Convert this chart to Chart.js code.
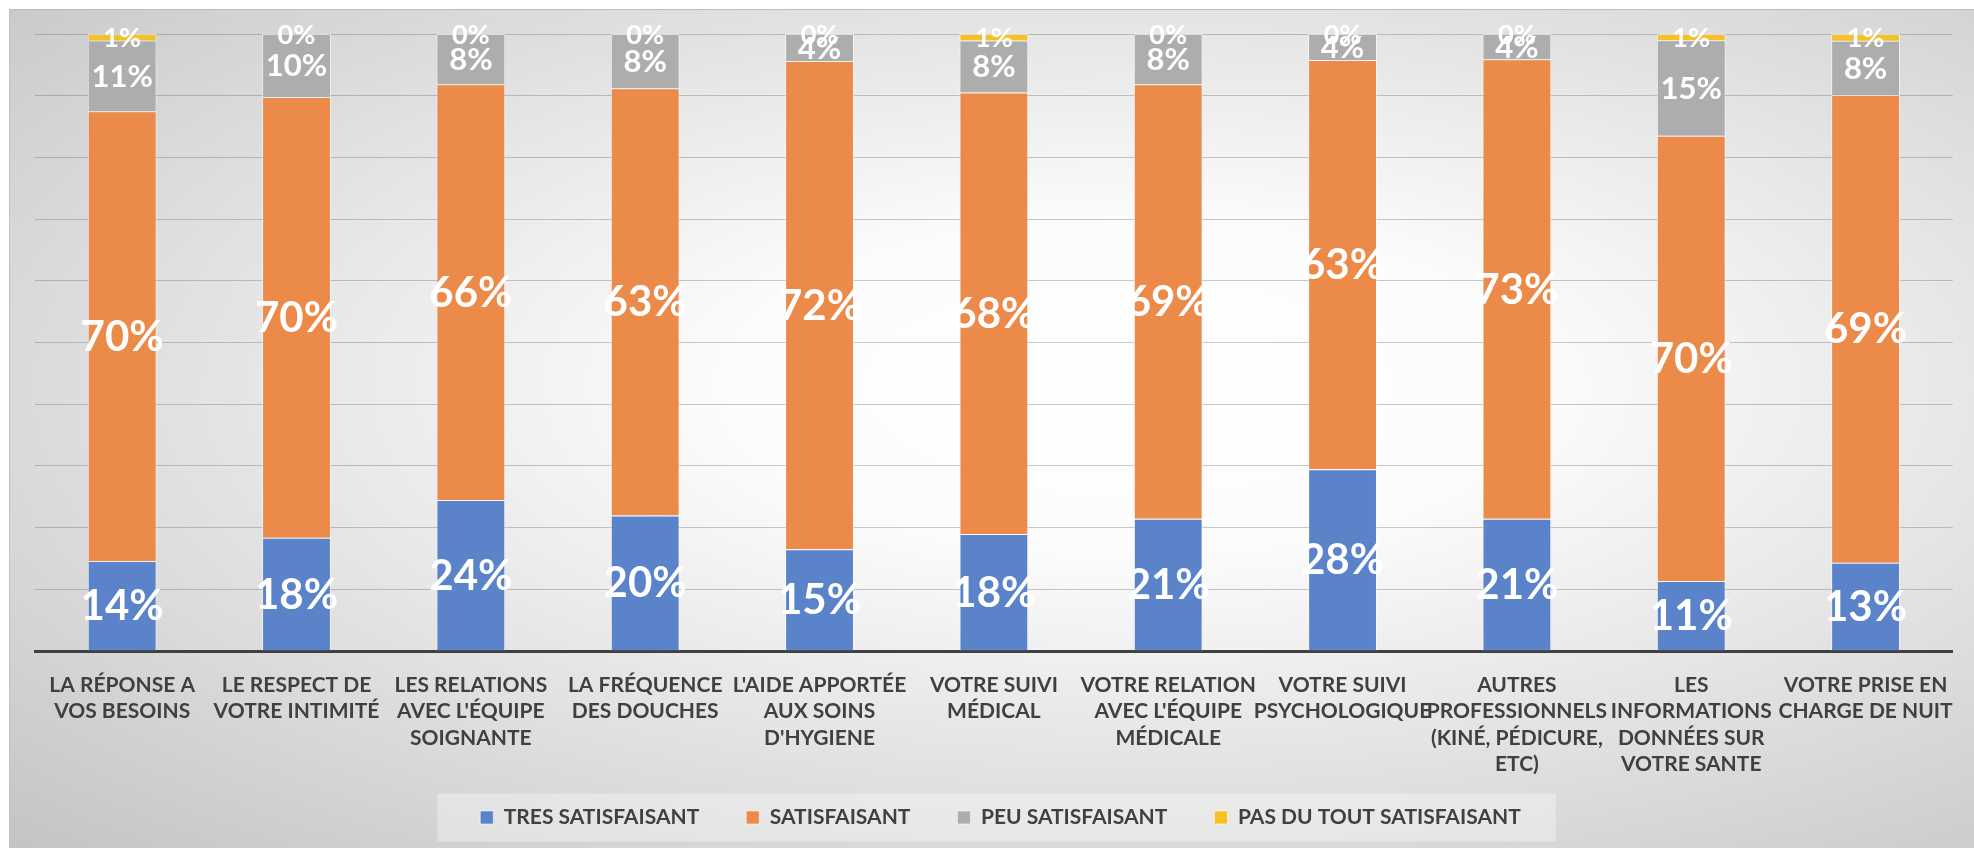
<!DOCTYPE html>
<html lang="fr">
<head>
<meta charset="utf-8">
<title>Satisfaction</title>
<script src="https://cdn.jsdelivr.net/npm/chart.js@4.4.1/dist/chart.umd.min.js"></script>
<style>
    html, body { margin: 0; padding: 0; background: #fff; }
    .frame {
        position: absolute; left: 0; top: 0;
        width: 1974px; height: 848px;
    }
    .panel {
        position: absolute; left: 9px; top: 9px; right: 0; bottom: 0;
        border-top: 1px solid #bdbdbd;
        border-left: 1px solid #c2c2c2;
        background: radial-gradient(ellipse farthest-corner at 57% 45%, #ffffff 0%, #fcfcfc 25%, #c4c4c4 100%);
    }
    canvas { position: absolute; left: 0; top: 0; }
</style>
</head>
<body>
<div class="frame">
    <div class="panel"></div>
    <canvas id="satisfactionChart" width="1974" height="848"></canvas>
</div>
<script>
const categories = [
    ['LA RÉPONSE A', 'VOS BESOINS'],
    ['LE RESPECT DE', 'VOTRE INTIMITÉ'],
    ['LES RELATIONS', "AVEC L'ÉQUIPE", 'SOIGNANTE'],
    ['LA FRÉQUENCE', 'DES DOUCHES'],
    ["L'AIDE APPORTÉE", 'AUX SOINS', "D'HYGIENE"],
    ['VOTRE SUIVI', 'MÉDICAL'],
    ['VOTRE RELATION', "AVEC L'ÉQUIPE", 'MÉDICALE'],
    ['VOTRE SUIVI', 'PSYCHOLOGIQUE'],
    ['AUTRES', 'PROFESSIONNELS', '(KINÉ, PÉDICURE,', 'ETC)'],
    ['LES', 'INFORMATIONS', 'DONNÉES SUR', 'VOTRE SANTE'],
    ['VOTRE PRISE EN', 'CHARGE DE NUIT']
];

const seriesNames = ['TRES SATISFAISANT', 'SATISFAISANT', 'PEU SATISFAISANT', 'PAS DU TOUT SATISFAISANT'];

// percentages as printed on the bars
const tresSatisfaisant = [14, 18, 24, 20, 15, 18, 21, 28, 21, 11, 13];
const satisfaisant     = [70, 70, 66, 63, 72, 68, 69, 63, 73, 70, 69];
const peuSatisfaisant  = [11, 10, 8, 8, 4, 8, 8, 4, 4, 15, 8];
const pasDuTout        = [1, 0, 0, 0, 0, 1, 0, 0, 0, 1, 1];

const yTicks = [0, 10, 20, 30, 40, 50, 60, 70, 80, 90, 100];

const seriesColors = ['#5A83C9', '#EB8A49', '#ADADAD', '#F8C123'];
const labelSizes = [42, 42, 31, 27];

document.addEventListener('DOMContentLoaded', () => {
    const raw = [tresSatisfaisant, satisfaisant, peuSatisfaisant, pasDuTout];

    // 100% stacked: each column is scaled to its own total
    const totals = categories.map((_, i) => raw.reduce((s, arr) => s + arr[i], 0));
    const normalised = raw.map(arr => arr.map((v, i) => v / totals[i] * 100));

    // 1. White percentage labels in the middle of each segment
    const segmentLabels = {
        id: 'segmentLabels',
        afterDatasetsDraw(chart) {
            const c = chart.ctx;
            c.save();
            c.fillStyle = '#ffffff';
            c.textAlign = 'center';
            c.textBaseline = 'middle';
            chart.data.datasets.forEach((ds, di) => {
                c.font = `bold ${labelSizes[di]}px Lato, sans-serif`;
                chart.getDatasetMeta(di).data.forEach((bar, i) => {
                    const y = (bar.y + bar.base) / 2;
                    c.fillText(raw[di][i] + '%', bar.x, y + 1);
                });
            });
            c.restore();
        }
    };

    // 2. Legend: wide item spacing needs a big padding, so pull the box
    //    back up over the label band and paint the light panel behind it
    const legendPanel = {
        id: 'legendPanel',
        afterLayout(chart) {
            const lg = chart.legend;
            if (!lg) return;
            lg.top -= 19;
            lg.height = 78;
            lg.bottom = lg.top + lg.height;
        },
        beforeDraw(chart) {
            const boxes = chart.legend && chart.legend.legendHitBoxes;
            if (!boxes || !boxes.length) return;
            const first = boxes[0];
            const last = boxes[boxes.length - 1];
            const left = first.left - 43;
            const right = last.left + last.width + 35;
            const mid = first.top + first.height / 2;
            const c = chart.ctx;
            c.save();
            c.fillStyle = 'rgba(255, 255, 255, 0.35)';
            c.fillRect(left, mid - 24, right - left, 48);
            c.restore();
        }
    };

    const ctx = document.getElementById('satisfactionChart');
    new Chart(ctx, {
        type: 'bar',
        data: {
            labels: categories,
            datasets: seriesNames.map((name, i) => ({
                label: name,
                data: normalised[i],
                backgroundColor: seriesColors[i],
                borderColor: 'rgba(255, 255, 255, 0.55)',
                borderWidth: 1,
                categoryPercentage: 1,
                barPercentage: 0.395
            }))
        },
        options: {
            responsive: false,
            animation: false,
            layout: { padding: { left: 35, right: 8, top: 34, bottom: 0 } },
            scales: {
                x: {
                    stacked: true,
                    grid: { display: false, drawTicks: false },
                    border: { display: true, color: '#404040', width: 3 },
                    ticks: {
                        autoSkip: false,
                        maxRotation: 0,
                        minRotation: 0,
                        padding: 21,
                        color: '#404040',
                        font: { family: 'Lato, sans-serif', size: 21, weight: 'bold', lineHeight: 1.26 }
                    },
                    afterFit: scale => { scale.height = 128; }
                },
                y: {
                    stacked: true,
                    min: 0,
                    max: 100,
                    afterBuildTicks: scale => { scale.ticks = yTicks.map(v => ({ value: v })); },
                    grid: { color: 'rgba(80, 80, 80, 0.3)', drawTicks: false },
                    border: { display: false },
                    ticks: { display: false }
                }
            },
            plugins: {
                legend: {
                    position: 'bottom',
                    maxHeight: 69,
                    labels: {
                        boxWidth: 13,
                        boxHeight: 13,
                        padding: 47,
                        color: '#404040',
                        font: { family: 'Lato, sans-serif', size: 21, weight: 'bold' }
                    }
                },
                tooltip: { enabled: false }
            }
        },
        plugins: [segmentLabels, legendPanel]
    });
});
</script>
</body>
</html>
